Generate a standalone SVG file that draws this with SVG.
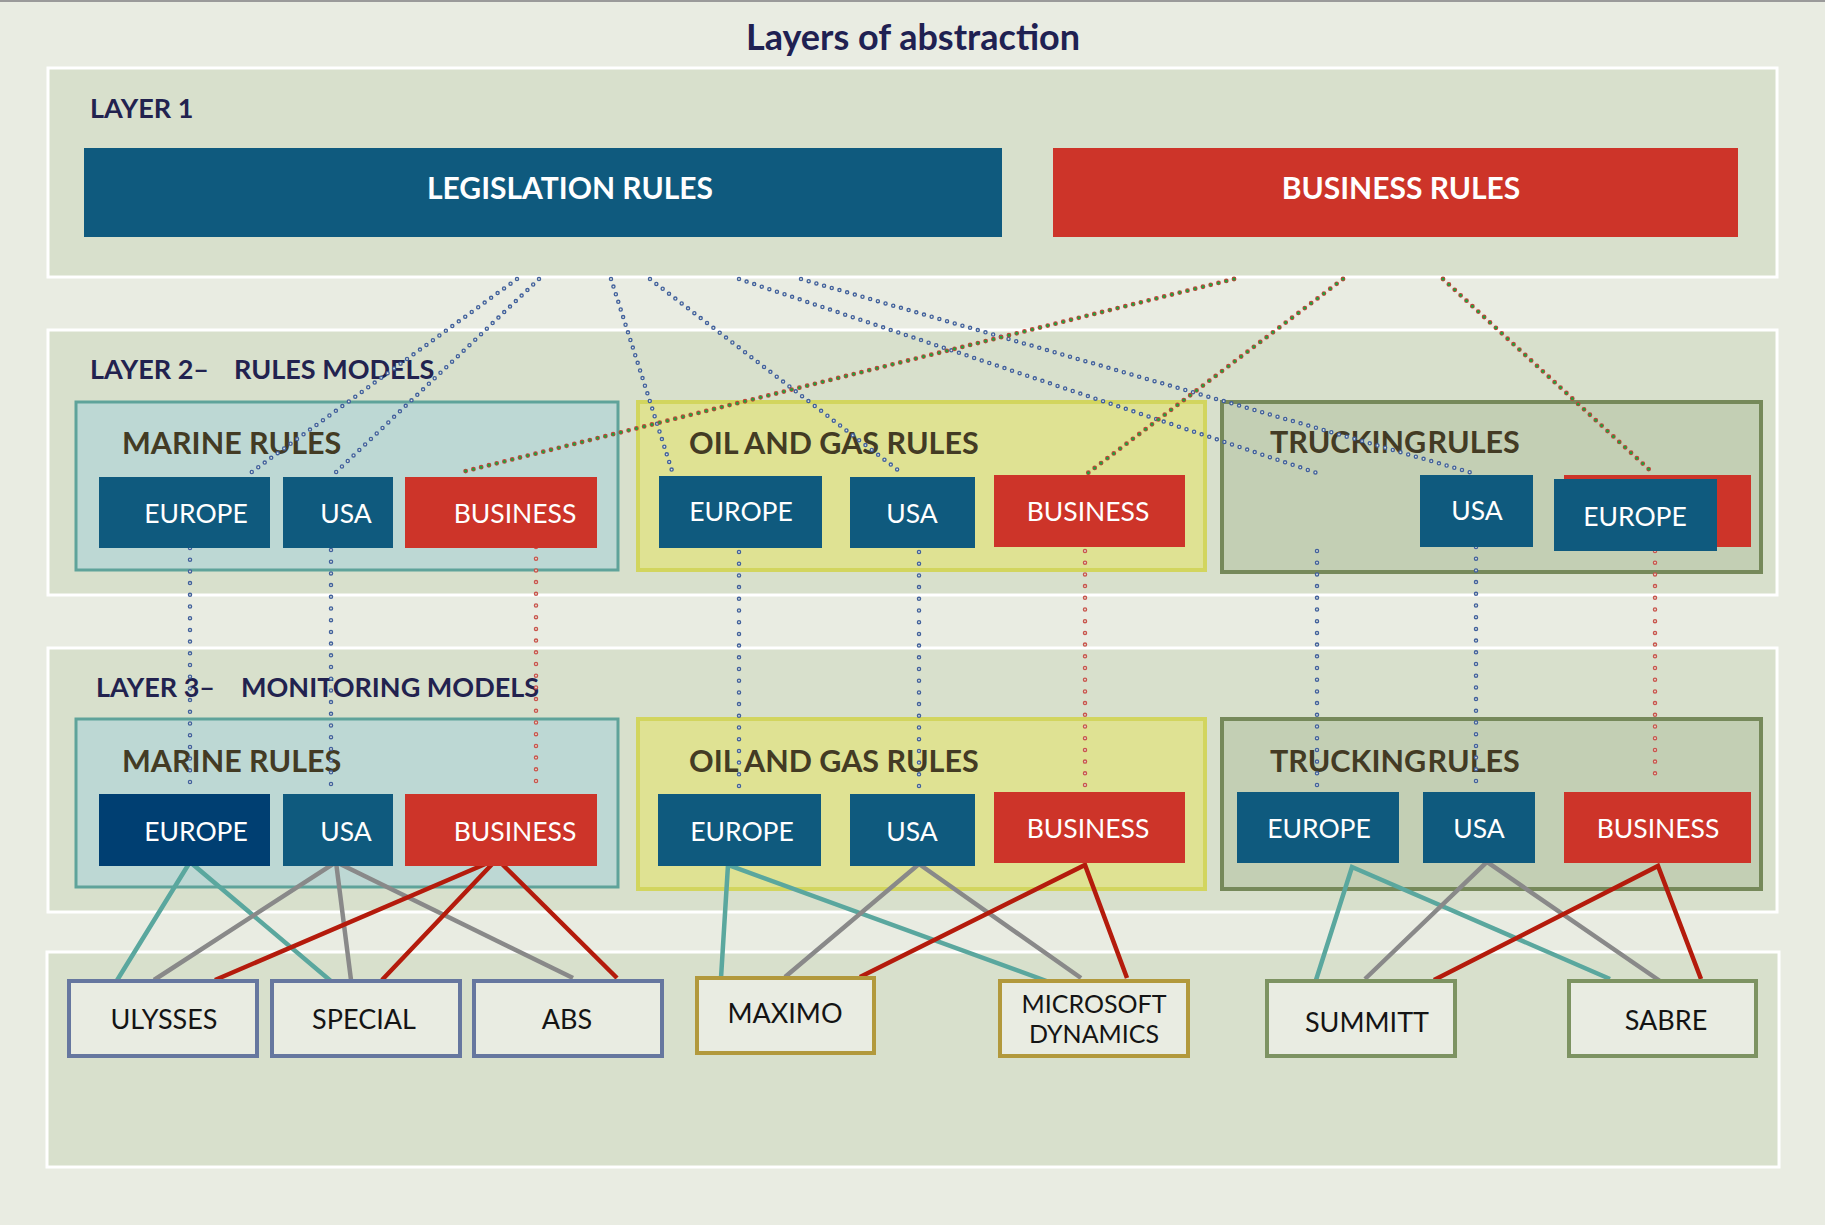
<svg xmlns="http://www.w3.org/2000/svg" width="1825" height="1225" viewBox="0 0 1825 1225">
<style>
text{font-family:Lato,"Liberation Sans",sans-serif}
.title{font-size:36px;font-weight:bold;fill:#1f2152;text-anchor:middle}
.layer{fill:#d8e0cc;stroke:#ffffff;stroke-width:3}
.lbl{font-size:27px;font-weight:bold;fill:#22224f}
.big{font-size:30px;font-weight:bold;fill:#ffffff;text-anchor:middle}
.grp{font-size:30.5px;font-weight:bold;fill:#433b24}
.marine{fill:#bdd8d4;stroke:#5fa39a;stroke-width:3}
.oil{fill:#dfe293;stroke:#d2d55e;stroke-width:4}
.truck{fill:#c3cfb4;stroke:#76895a;stroke-width:4}
.blue{fill:#0f5a7e}
.navy{fill:#003f72}
.red{fill:#cd3429}
.nl{font-size:26.5px;fill:#ffffff;text-anchor:middle}
.sys{fill:#e9ece2;stroke-width:4}
.sb{stroke:#66779f}
.sg{stroke:#b2993c}
.sv{stroke:#7d9362}
.sl{font-size:27px;fill:#141414;text-anchor:middle}
.sl2{font-size:25px;fill:#141414;text-anchor:middle}
.bo{fill:none;stroke:#41609c;stroke-width:4.5;stroke-linecap:round;stroke-dasharray:0 8}
.bi{fill:none;stroke:#e2e7da;stroke-width:1.8;stroke-linecap:round;stroke-dasharray:0 8}
.ro{fill:none;stroke:#c9544c;stroke-width:4.5;stroke-linecap:round;stroke-dasharray:0 11.7}
.ri{fill:none;stroke:#e2e7da;stroke-width:1.8;stroke-linecap:round;stroke-dasharray:0 11.7}
.vo{fill:none;stroke:#41609c;stroke-width:4.5;stroke-linecap:round;stroke-dasharray:0 11.7}
.vi{fill:none;stroke:#e2e7da;stroke-width:1.8;stroke-linecap:round;stroke-dasharray:0 11.7}
.go{fill:none;stroke:#c2443a;stroke-width:4.8;stroke-linecap:round;stroke-dasharray:0 8}
.gi{fill:none;stroke:#22a03e;stroke-width:3;stroke-linecap:round;stroke-dasharray:0 8}
.t{stroke:#5aa79e;stroke-width:4.5;fill:none}
.g{stroke:#898989;stroke-width:4.5;fill:none}
.r{stroke:#b41b0c;stroke-width:4.5;fill:none}
</style>
<rect x="0" y="0" width="1825" height="1225" fill="#e9ece2"/>
<line x1="0" y1="1" x2="1825" y2="1" stroke="#9a9a9a" stroke-width="2"/>
<text class="title" x="913" y="50">Layers of abstraction</text>

<g id="layer1">
<rect class="layer" x="48" y="68" width="1729" height="209"/>
<text class="lbl" x="90" y="118">LAYER 1</text>
</g>
<g id="layer2">
<rect class="layer" x="48" y="330" width="1729" height="265"/>
<text class="lbl" x="90" y="379">LAYER 2–<tspan x="234">RULES MODELS</tspan></text>
</g>
<g id="layer3">
<rect class="layer" x="48" y="648" width="1729" height="264"/>
<text class="lbl" x="96" y="697">LAYER 3–<tspan x="241">MONITORING MODELS</tspan></text>
</g>
<g id="layer4">
<rect class="layer" x="47" y="952" width="1732" height="215"/>
</g>

<g id="l2-marine">
<rect class="marine" x="76" y="402" width="542" height="168"/>
<text class="grp" x="122" y="454">MARINE RULES</text>
</g>
<g id="l2-oil">
<rect class="oil" x="638" y="402" width="567" height="168"/>
<text class="grp" x="689" y="454">OIL AND GAS RULES</text>
</g>
<g id="l2-trucking">
<rect class="truck" x="1222" y="402" width="539" height="170"/>
<text class="grp" x="1270" y="453" word-spacing="-6">TRUCKING RULES</text>
</g>
<g id="l3-marine">
<rect class="marine" x="76" y="719" width="542" height="168"/>
<text class="grp" x="122" y="772">MARINE RULES</text>
</g>
<g id="l3-oil">
<rect class="oil" x="638" y="719" width="567" height="170"/>
<text class="grp" x="689" y="772">OIL AND GAS RULES</text>
</g>
<g id="l3-trucking">
<rect class="truck" x="1222" y="719" width="539" height="170"/>
<text class="grp" x="1270" y="772" word-spacing="-6">TRUCKING RULES</text>
</g>

<g id="connectors">
<line class="bo" x1="517" y1="279" x2="249" y2="474"/><line class="bi" x1="517" y1="279" x2="249" y2="474"/>
<line class="bo" x1="539" y1="279" x2="333" y2="475"/><line class="bi" x1="539" y1="279" x2="333" y2="475"/>
<line class="bo" x1="611" y1="279" x2="673" y2="474"/><line class="bi" x1="611" y1="279" x2="673" y2="474"/>
<line class="bo" x1="650" y1="279" x2="903" y2="474"/><line class="bi" x1="650" y1="279" x2="903" y2="474"/>
<line class="bo" x1="739" y1="279" x2="1317" y2="473"/><line class="bi" x1="739" y1="279" x2="1317" y2="473"/>
<line class="bo" x1="801" y1="279" x2="1476" y2="474"/><line class="bi" x1="801" y1="279" x2="1476" y2="474"/>
<line class="go" x1="1234" y1="279" x2="458" y2="473"/><line class="gi" x1="1234" y1="279" x2="458" y2="473"/>
<line class="go" x1="1343" y1="279" x2="1088" y2="473"/><line class="gi" x1="1343" y1="279" x2="1088" y2="473"/>
<line class="go" x1="1443" y1="279" x2="1654" y2="474"/><line class="gi" x1="1443" y1="279" x2="1654" y2="474"/>

<line class="vo" x1="190" y1="548" x2="190" y2="786"/><line class="vi" x1="190" y1="548" x2="190" y2="786"/>
<line class="vo" x1="331" y1="550" x2="331" y2="788"/><line class="vi" x1="331" y1="550" x2="331" y2="788"/>
<line class="ro" x1="536" y1="547" x2="536" y2="784"/><line class="ri" x1="536" y1="547" x2="536" y2="784"/>
<line class="vo" x1="739" y1="552" x2="739" y2="788"/><line class="vi" x1="739" y1="552" x2="739" y2="788"/>
<line class="vo" x1="919" y1="552" x2="919" y2="790"/><line class="vi" x1="919" y1="552" x2="919" y2="790"/>
<line class="ro" x1="1085" y1="551" x2="1085" y2="788"/><line class="ri" x1="1085" y1="551" x2="1085" y2="788"/>
<line class="vo" x1="1317" y1="551" x2="1317" y2="787"/><line class="vi" x1="1317" y1="551" x2="1317" y2="787"/>
<line class="vo" x1="1476" y1="547" x2="1476" y2="784"/><line class="vi" x1="1476" y1="547" x2="1476" y2="784"/>
<line class="ro" x1="1655" y1="551" x2="1655" y2="785"/><line class="ri" x1="1655" y1="551" x2="1655" y2="785"/>

<polyline class="t" points="116,982 190,862 332,982"/>
<polyline class="g" points="154,980 336,862 351,980"/>
<line class="g" x1="336" y1="862" x2="573" y2="978"/>
<polyline class="r" points="215,980 497,859 382,980"/>
<line class="r" x1="497" y1="859" x2="617" y2="978"/>
<polyline class="t" points="721,978 728,865 1052,983"/>
<polyline class="g" points="785,977 919,864 1081,978"/>
<polyline class="r" points="860,977 1085,865 1127,978"/>
<polyline class="t" points="1316,980 1352,867 1610,979"/>
<polyline class="g" points="1365,979 1487,862 1660,981"/>
<polyline class="r" points="1434,980 1658,866 1701,979"/>
</g>

<g id="legislation-rules">
<rect class="blue" x="84" y="148" width="918" height="89"/>
<text class="big" x="570" y="199">LEGISLATION RULES</text>
</g>
<g id="business-rules">
<rect class="red" x="1053" y="148" width="685" height="89"/>
<text class="big" x="1401" y="199">BUSINESS RULES</text>
</g>

<g id="l2-marine-europe"><rect class="blue" x="99" y="477" width="171" height="71"/><text class="nl" x="196" y="523">EUROPE</text></g>
<g id="l2-marine-usa"><rect class="blue" x="283" y="477" width="110" height="71"/><text class="nl" x="346" y="523">USA</text></g>
<g id="l2-marine-business"><rect class="red" x="405" y="477" width="192" height="71"/><text class="nl" x="515" y="523">BUSINESS</text></g>
<g id="l2-oil-europe"><rect class="blue" x="659" y="476" width="163" height="72"/><text class="nl" x="741" y="521">EUROPE</text></g>
<g id="l2-oil-usa"><rect class="blue" x="850" y="477" width="125" height="71"/><text class="nl" x="912" y="523">USA</text></g>
<g id="l2-oil-business"><rect class="red" x="994" y="475" width="191" height="72"/><text class="nl" x="1088" y="521">BUSINESS</text></g>
<g id="l2-truck-usa"><rect class="blue" x="1420" y="475" width="113" height="72"/><text class="nl" x="1477" y="520">USA</text></g>
<g id="l2-truck-business"><rect class="red" x="1564" y="475" width="187" height="72"/></g>
<g id="l2-truck-europe"><rect class="blue" x="1554" y="479" width="163" height="72"/><text class="nl" x="1635" y="526">EUROPE</text></g>

<g id="l3-marine-europe"><rect class="navy" x="99" y="794" width="171" height="72"/><text class="nl" x="196" y="841">EUROPE</text></g>
<g id="l3-marine-usa"><rect class="blue" x="283" y="794" width="110" height="72"/><text class="nl" x="346" y="841">USA</text></g>
<g id="l3-marine-business"><rect class="red" x="405" y="794" width="192" height="72"/><text class="nl" x="515" y="841">BUSINESS</text></g>
<g id="l3-oil-europe"><rect class="blue" x="658" y="794" width="163" height="72"/><text class="nl" x="742" y="841">EUROPE</text></g>
<g id="l3-oil-usa"><rect class="blue" x="850" y="794" width="125" height="72"/><text class="nl" x="912" y="841">USA</text></g>
<g id="l3-oil-business"><rect class="red" x="994" y="792" width="191" height="71"/><text class="nl" x="1088" y="838">BUSINESS</text></g>
<g id="l3-truck-europe"><rect class="blue" x="1237" y="792" width="162" height="71"/><text class="nl" x="1319" y="838">EUROPE</text></g>
<g id="l3-truck-usa"><rect class="blue" x="1423" y="792" width="112" height="71"/><text class="nl" x="1479" y="838">USA</text></g>
<g id="l3-truck-business"><rect class="red" x="1564" y="792" width="187" height="71"/><text class="nl" x="1658" y="838">BUSINESS</text></g>

<g id="ulysses"><rect class="sys sb" x="69" y="981" width="188" height="75"/><text class="sl" x="164" y="1029">ULYSSES</text></g>
<g id="special"><rect class="sys sb" x="272" y="981" width="188" height="75"/><text class="sl" x="364" y="1029">SPECIAL</text></g>
<g id="abs"><rect class="sys sb" x="474" y="981" width="188" height="75"/><text class="sl" x="567" y="1029">ABS</text></g>
<g id="maximo"><rect class="sys sg" x="697" y="978" width="177" height="75"/><text class="sl" x="785" y="1023">MAXIMO</text></g>
<g id="microsoft-dynamics"><rect class="sys sg" x="1000" y="981" width="188" height="75"/><text class="sl2" x="1094" y="1013">MICROSOFT<tspan x="1094" y="1043">DYNAMICS</tspan></text></g>
<g id="summitt"><rect class="sys sv" x="1267" y="981" width="188" height="75"/><text class="sl" x="1367" y="1032">SUMMITT</text></g>
<g id="sabre"><rect class="sys sv" x="1569" y="981" width="187" height="75"/><text class="sl" x="1666" y="1030">SABRE</text></g>
</svg>
